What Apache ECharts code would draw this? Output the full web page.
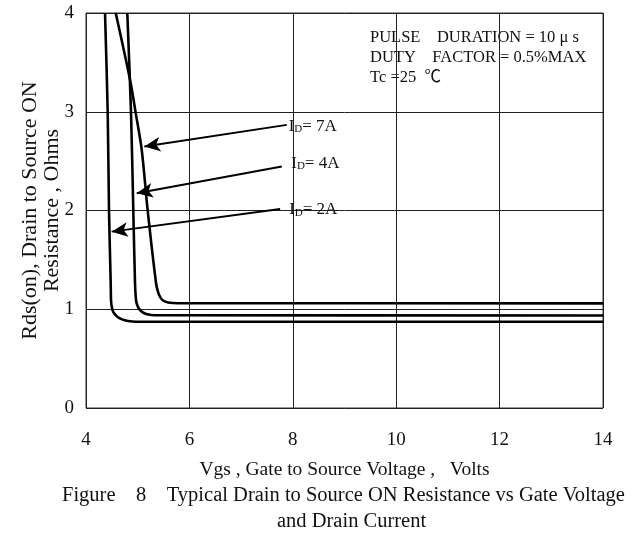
<!DOCTYPE html>
<html>
<head>
<meta charset="utf-8">
<script src="https://cdn.jsdelivr.net/npm/echarts@6/dist/echarts.min.js"></script>
<style>html,body{margin:0;padding:0;background:#fff;}#c{width:638px;height:535px;}</style>
</head>
<body>
<div id="c"></div>
<script>
// ---- data ----
const xTicks = [4, 6, 8, 10, 12, 14];
const yTicks = [0, 1, 2, 3, 4];
const curve2A = [[4.368,4.0],[4.42,2.986],[4.445,1.996],[4.478,1.263],[4.484,1.094],[4.499,1.023],[4.532,0.968],[4.600,0.927],[4.697,0.897],[4.813,0.881],[4.968,0.874],[14,0.874]];
const curve4A = [[4.799,4.0],[4.871,2.986],[4.915,1.996],[4.948,1.263],[4.962,1.125],[4.977,1.064],[5.016,1.013],[5.084,0.973],[5.181,0.949],[5.335,0.939],[14,0.937]];
const curve7A = [[4.575,4.0],[4.852,3.323],[4.962,2.986],[5.078,2.614],[5.194,1.996],[5.355,1.263],[5.393,1.175],[5.432,1.125],[5.49,1.089],[5.587,1.069],[5.781,1.061],[14,1.06]];
const labelNames = ['7A', '4A', '2A'];
const labelAnchors = [[7.92,2.85],[7.97,2.48],[7.93,2.006]];
const arrowFrom = [[7.884,2.867],[7.787,2.445],[7.755,2.016]];
const arrowTo = [[5.128,2.647],[4.981,2.175],[4.497,1.786]];
const noteLines = ['PULSE    DURATION = 10 μ s', 'DUTY    FACTOR = 0.5%MAX', 'Tc =25  ℃'];

const FONT = '"Liberation Serif", "Times New Roman", "Noto Sans CJK SC", serif';
const INK = '#111';

const chart = echarts.init(document.getElementById('c'), null, {renderer: 'canvas'});

function curveSeries(name, data) {
  return {
    name: name, type: 'line', data: data, showSymbol: false, symbol: 'none',
    smooth: 0.3, clip: true,
    lineStyle: {color: '#000', width: 2.6},
    z: 3
  };
}

const option = {
  backgroundColor: '#fff',
  animation: false,
  grid: {left: 86, right: 35, top: 13, bottom: 127, show: true, borderColor: '#333', borderWidth: 1},
  xAxis: {
    type: 'value', min: xTicks[0], max: xTicks[xTicks.length-1], interval: 2,
    axisLine: {show: false}, axisTick: {show: false},
    splitLine: {show: true, lineStyle: {color: '#222', width: 1}},
    axisLabel: {color: INK, fontFamily: FONT, fontSize: 19, margin: 23},
    name: 'Vgs , Gate to Source Voltage ,   Volts', nameLocation: 'middle', nameGap: 52,
    nameMoveOverlap: false,
    nameTextStyle: {color: INK, fontFamily: FONT, fontSize: 19.5}
  },
  yAxis: {
    type: 'value', min: yTicks[0], max: yTicks[yTicks.length-1], interval: 1,
    axisLine: {show: false}, axisTick: {show: false},
    splitLine: {show: true, lineStyle: {color: '#222', width: 1}},
    axisLabel: {color: INK, fontFamily: FONT, fontSize: 19, margin: 12},
    name: 'Rds(on), Drain to Source ON\nResistance , Ohms', nameLocation: 'middle', nameGap: 23,
    nameMoveOverlap: false,
    nameTextStyle: {color: INK, fontFamily: FONT, fontSize: 22, lineHeight: 22, align: 'center'}
  },
  series: [
    curveSeries('ID=2A', curve2A),
    curveSeries('ID=4A', curve4A),
    Object.assign(curveSeries('ID=7A', curve7A), {
      markLine: {
        silent: true, animation: false,
        symbol: ['none', 'arrow'], symbolSize: [11, 16],
        lineStyle: {color: '#000', width: 2, type: 'solid'},
        label: {show: false},
        data: arrowFrom.map((f, i) => [{coord: f}, {coord: arrowTo[i]}])
      }
    }),
    {
      type: 'scatter', symbolSize: 0, silent: true, z: 5,
      itemStyle: {opacity: 1},
      data: labelAnchors.map((p, i) => ({value: p, name: labelNames[i]})),
      label: {
        show: true, position: 'right', distance: 0,
        formatter: p => '{i|I}{s|D}{t|= ' + p.name + '}',
        rich: {
          i: {fontFamily: FONT, fontSize: 17, color: INK},
          s: {fontFamily: FONT, fontSize: 11, color: INK, verticalAlign: 'bottom', padding: [6, 0, 0, 0]},
          t: {fontFamily: FONT, fontSize: 17, color: INK}
        }
      }
    }
  ],
  graphic: [
    {type: 'text', left: 370, top: 28, style: {text: noteLines.join('\n'), font: '16.5px ' + FONT, fill: INK, lineHeight: 20}},
    {type: 'text', left: 62, top: 485, style: {text: 'Figure    8    Typical Drain to Source ON Resistance vs Gate Voltage', font: '20.5px ' + FONT, fill: INK}},
    {type: 'text', left: 277, top: 511, style: {text: 'and Drain Current', font: '20.5px ' + FONT, fill: INK}}
  ]
};
chart.setOption(option);
</script>
</body>
</html>
